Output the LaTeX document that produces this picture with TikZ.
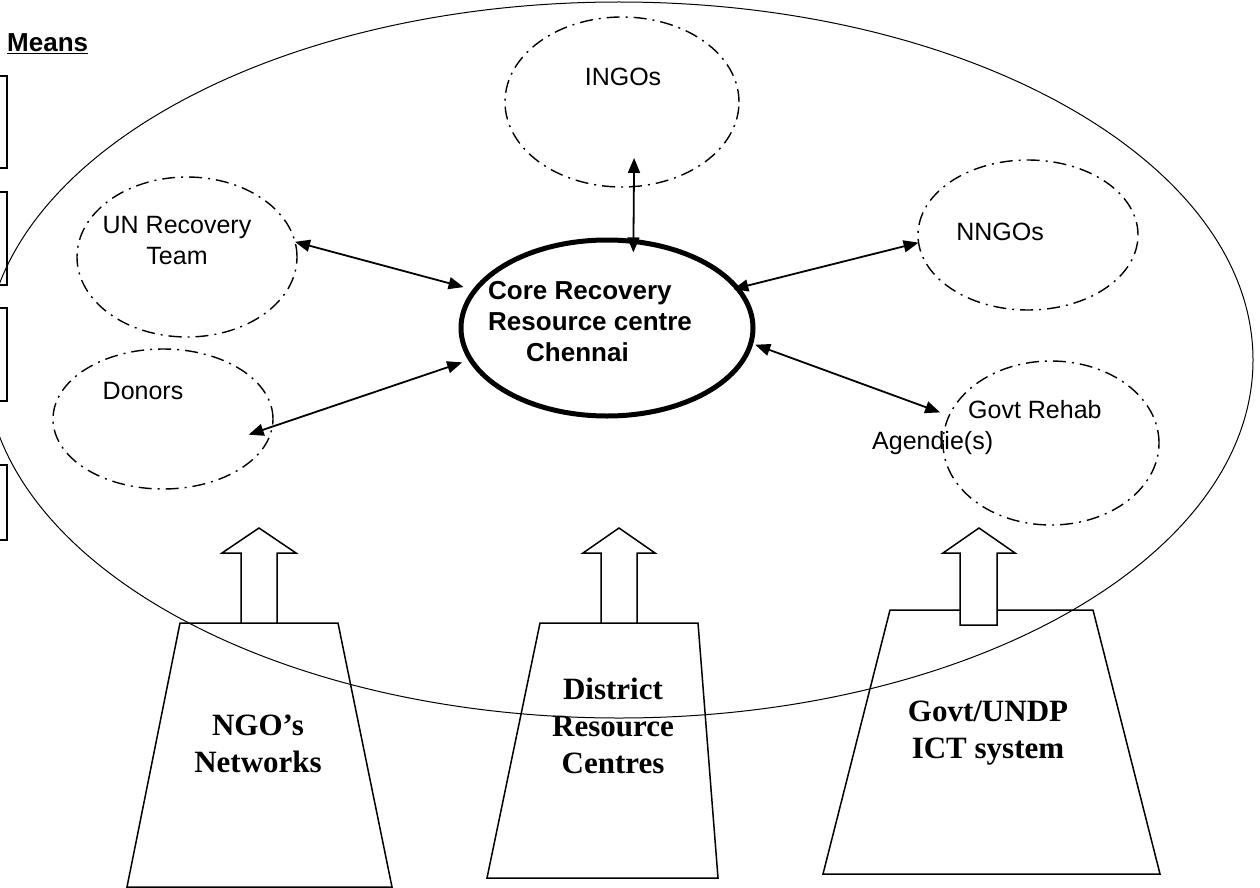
\documentclass[tikz,border=0pt]{standalone}
\usepackage{fontspec}
\newfontfamily\arialf{Liberation Sans}
\newfontfamily\timesf{Liberation Serif}
\usetikzlibrary{arrows.meta,shapes.geometric}
\begin{document}
\begin{tikzpicture}[x=1pt,y=-1pt,
  ddot/.style={draw, line width=1.4pt, dash pattern=on 13pt off 6pt on 2pt off 6pt, ellipse, inner sep=0pt, outer sep=0pt},
  arr/.style={{Triangle[length=15pt,width=12pt]}-{Triangle[length=15pt,width=12pt]}, line width=1.8pt},
  lbl/.style={font=\arialf\fontsize{25}{31}\selectfont, align=center, inner sep=0pt},
  traptext/.style={font=\timesf\bfseries\fontsize{31}{37}\selectfont, align=center, inner sep=0pt},
  trapline/.style={draw, line width=1.5pt},
  blockarrow/.style={draw, line width=1.5pt, fill=white},
  sidebox/.style={draw, line width=1.3pt}]
\useasboundingbox (0,0) rectangle (1260,888);

% left boxes and heading
\node[anchor=base west, inner sep=0pt, font=\arialf\bfseries\fontsize{26}{30}\selectfont] (means) at (7,52) {\underline{Means}};
\draw[sidebox] (-10,76) rectangle (7,168);
\draw[sidebox] (-10,192) rectangle (7,285);
\draw[sidebox] (-10,308) rectangle (7,401);
\draw[sidebox] (-10,465) rectangle (7,540);

% large field ellipse
\node[draw, ellipse, line width=1pt, minimum width=1268pt, minimum height=716pt, inner sep=0pt] (field) at (619,360) {};

% satellite ellipses
\node[ddot, minimum width=234pt, minimum height=170pt] (ingo) at (622,102) {};
\node[ddot, minimum width=220pt, minimum height=160pt] (un) at (187,257) {};
\node[ddot, minimum width=220pt, minimum height=140pt] (don) at (163,419) {};
\node[ddot, minimum width=220pt, minimum height=150pt] (nngo) at (1028,235) {};
\node[ddot, minimum width=216pt, minimum height=164pt] (gov) at (1051,443) {};

% core
\node[draw, ellipse, line width=5pt, minimum width=292pt, minimum height=176pt, inner sep=0pt, outer sep=0pt] (core) at (607,328) {};
\node[anchor=west, inner sep=0pt, align=left, font=\arialf\bfseries\fontsize{26}{31}\selectfont] (tcore) at (488,322) {Core Recovery\\Resource centre\\\hspace*{38pt}Chennai};

% labels
\node[lbl] (tingo) at (623,77) {INGOs};
\node[lbl] (tun) at (177,241) {UN Recovery\\Team};
\node[lbl] (tnngo) at (1000,232) {NNGOs};
\node[lbl] (tdon) at (143,391) {Donors};
\node[lbl, align=left, anchor=west] (tgov) at (872,428) {\hspace*{96pt}Govt Rehab\\Agendie(s)};

% connectors
\draw[arr, shorten >=12pt] (un.8) -- (core.164.6);
\draw[arr, shorten <=-25pt, shorten >=9pt] (don.-4) -- (core.193);
\draw[arr, shorten >=-4pt] (nngo.184) -- (core.17.7);
\draw[arr, shorten <=9.6pt, shorten >=4.7pt] (gov.165) -- (core.-6.5);
\draw[arr, shorten <=-28.6pt, shorten >=-11pt] (ingo.-82) -- (core.73);

% trapezoids
\draw[trapline] (180,623) -- (338,623) -- (392,887) -- (127,887) -- cycle;
\draw[trapline] (540,623) -- (698,623) -- (718,878) -- (487,878) -- cycle;
\draw[trapline] (890,610) -- (1093,610) -- (1160,874) -- (823,874) -- cycle;

% block arrows
\draw[blockarrow] (241,623) -- (241,553) -- (222,553) -- (259,528) -- (296,553) -- (277,553) -- (277,623) -- cycle;
\draw[blockarrow] (601,623) -- (601,553) -- (583,553) -- (619,528) -- (655,553) -- (637,553) -- (637,623) -- cycle;
\draw[blockarrow] (960,625) -- (960,553) -- (943,553) -- (979,528) -- (1015,553) -- (997,553) -- (997,625) -- cycle;

% trapezoid texts
\node[traptext] (tngo) at (258,744) {NGO’s\\Networks};
\node[traptext] (tdrc) at (613,726) {District\\Resource\\Centres};
\node[traptext] (tict) at (988,733) {Govt/UNDP\\ICT system};
\end{tikzpicture}
\end{document}
